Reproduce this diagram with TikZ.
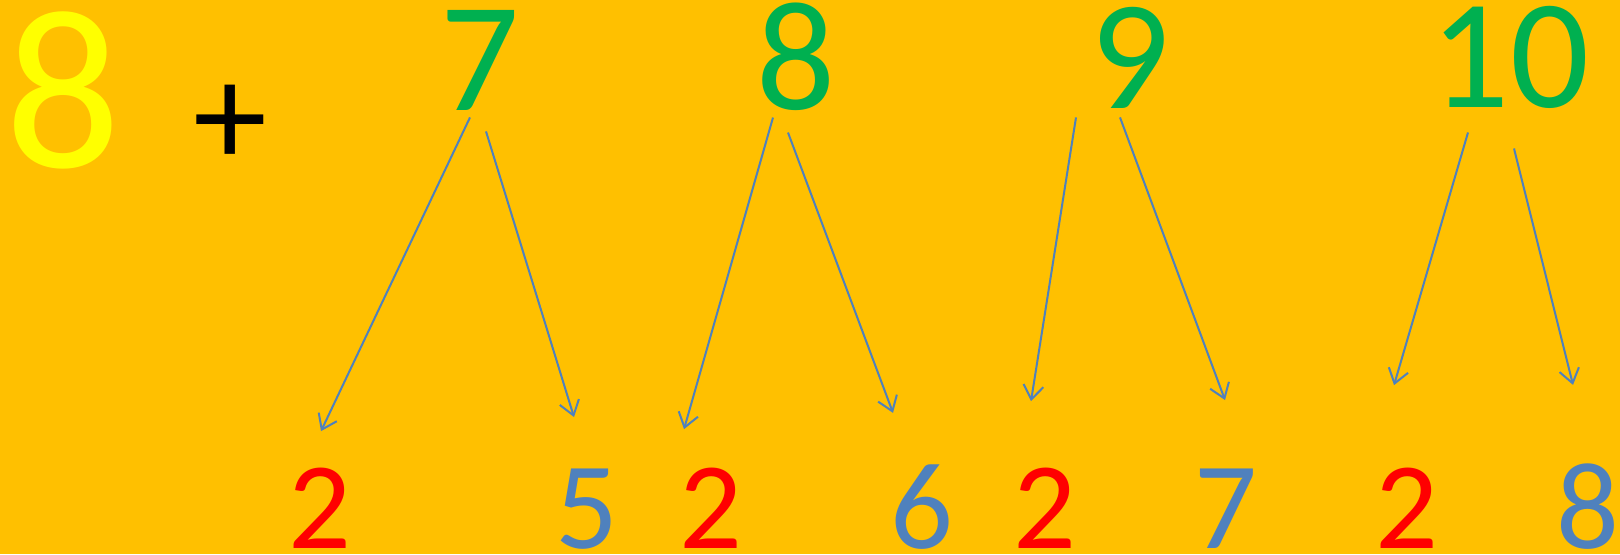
\documentclass[tikz,border=0pt]{standalone}
\usepackage{fontspec}
\setmainfont{Carlito}[UprightFont=*-Regular,BoldFont=*-Bold,ItalicFont=*-Italic,BoldItalicFont=*-BoldItalic]
\usetikzlibrary{arrows.meta,calc}
\definecolor{bgorange}{HTML}{FFC000}
\definecolor{digyellow}{HTML}{FFFF00}
\definecolor{diggreen}{HTML}{00B050}
\definecolor{digred}{HTML}{FF0000}
\definecolor{digblue}{HTML}{4F81BD}
\begin{document}
\begin{tikzpicture}[x=0.5pt,y=-0.5pt,
  dig/.style={inner sep=0pt,anchor=base},
  big/.style={dig,text=digyellow,font=\fontsize{114}{114}\selectfont},
  top/.style={dig,text=diggreen,font=\fontsize{78}{78}\selectfont},
  low/.style={dig,font=\fontsize{62}{62}\selectfont},
  arr/.style={draw=digblue,line width=1pt,-{Straight Barb[length=7pt,width=10pt,line width=1pt]}}]
\fill[bgorange] (0,0) rectangle (1620,554);
\useasboundingbox (0,0) rectangle (1620,554);
% first addend and plus
\node[big] (a8) at (63,167) {8};
\node[inner sep=0pt,font=\fontsize{74}{74}\selectfont] (plus) at (230,126) {+};
% top numbers
\node[top] (t7) at (480,110) {7};
\node[top] (t8) at (796,109) {8};
\node[top] (t9) at (1130,108) {9};
\node[top] (t10) at (1510,107) {10};
% bottom numbers
\node[low,text=digred] (b1) at (320,548) {2};
\node[low,text=digblue] (b2) at (587,548) {5};
\node[low,text=digred] (b3) at (711,548) {2};
\node[low,text=digblue] (b4) at (922,548) {6};
\node[low,text=digred] (b5) at (1045,548) {2};
\node[low,text=digblue] (b6) at (1226,548) {7};
\node[low,text=digred] (b7) at (1407,548) {2};
\node[low,text=digblue] (b8) at (1588,548) {8};
% arrows
\draw[arr] ($(t7.south)+(-10,7)$) -- ($(b1.north)+(1,-36)$);
\draw[arr] ($(t7.south)+(6,21)$) -- ($(b2.north)+(-13,-51)$);
\draw[arr] ($(t8.south)+(-23,7)$) -- ($(b3.north)+(-27,-38)$);
\draw[arr] ($(t8.south)+(-8,22)$) -- ($(b4.north)+(-29,-51)$);
\draw[arr] ($(t9.south)+(-54,9)$) -- ($(b5.north)+(-14,-66)$);
\draw[arr] ($(t9.south)+(-10,9)$) -- ($(b6.north)+(-1,-68)$);
\draw[arr] ($(t10.south)+(-42,24)$) -- ($(b7.north)+(-13,-82)$);
\draw[arr] ($(t10.south)+(4,40)$) -- ($(b8.north)+(-15,-78)$);
\end{tikzpicture}
\end{document}
